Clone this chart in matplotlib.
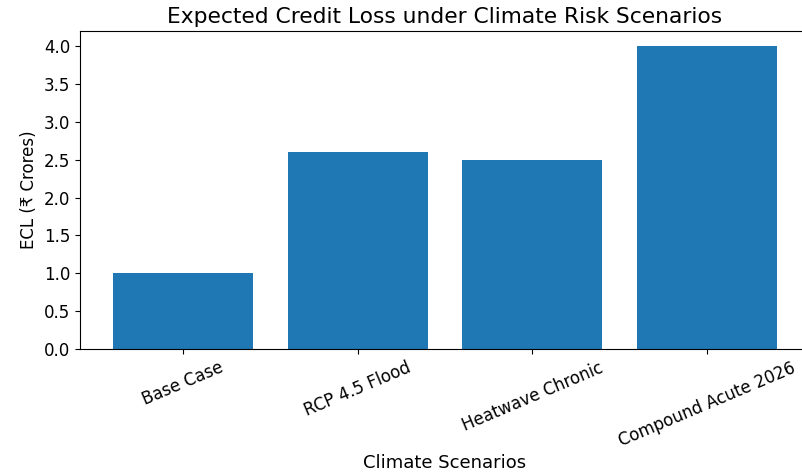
import matplotlib
matplotlib.use("Agg")
import matplotlib.pyplot as plt

scenarios = ["Base Case", "RCP 4.5 Flood", "Heatwave Chronic", "Compound Acute 2026"]
ecl_crores = [1.0, 2.6, 2.5, 4.0]

fig = plt.figure(figsize=(8.03, 4.75), dpi=100)
# axes run a little past the right edge, as in the reference
axis = fig.add_axes([80 / 803, 126 / 475, 730 / 803, 318 / 475])

axis.bar(scenarios, ecl_crores, color="#1f77b4")
axis.set_title("Expected Credit Loss under Climate Risk Scenarios", fontsize=15.7)
axis.set_xlabel("Climate Scenarios", fontsize=13)
axis.set_ylabel("ECL (₹ Crores)", fontsize=12)
axis.tick_params(axis="both", labelsize=12)
plt.setp(axis.get_xticklabels(), rotation=23, ha="center")
axis.xaxis.set_label_coords(0.5, -0.33)
axis.spines["right"].set_visible(False)

fig.savefig("out.png", dpi=100)
